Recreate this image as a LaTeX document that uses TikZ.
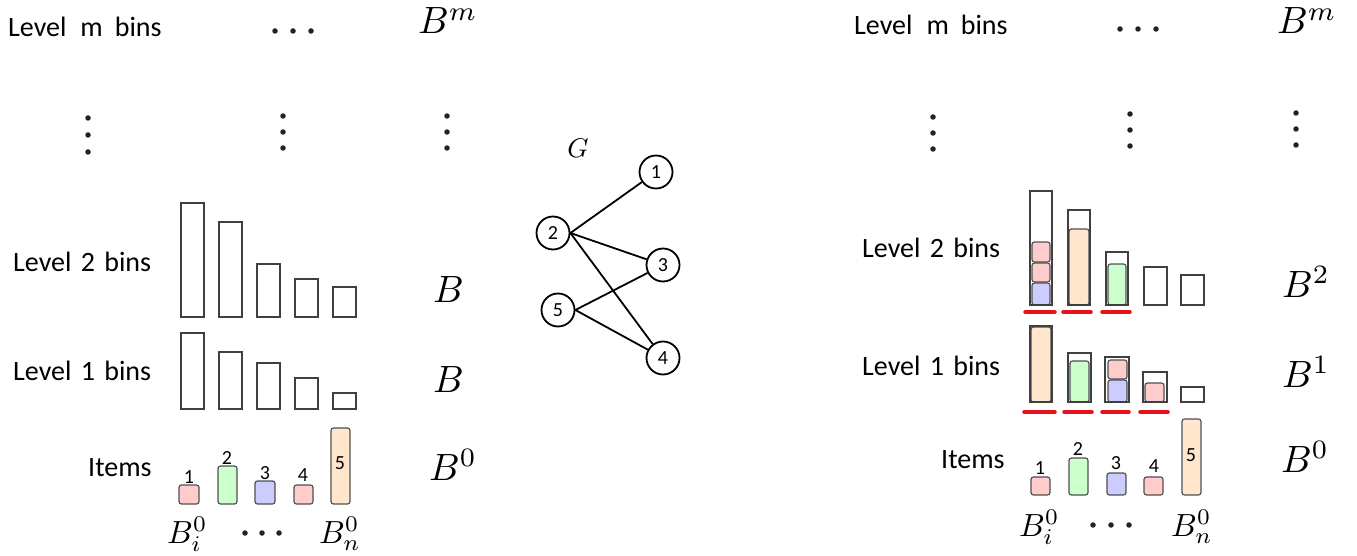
\documentclass[tikz,border=0pt]{standalone}
\usepackage{graphicx}
\usepackage{fontspec}
\newfontfamily\lblfont{Carlito}
\newcommand{\mbLarge}[1]{\scalebox{3.8}{$#1$}}
\newcommand{\mbSmall}[1]{\scalebox{3.2}{$#1$}}
\definecolor{binc}{HTML}{404040}
\definecolor{itemc}{HTML}{505050}
\definecolor{pinkc}{HTML}{FFCCCC}
\definecolor{greenc}{HTML}{CCFFCC}
\definecolor{bluec}{HTML}{CCCCFF}
\definecolor{orangec}{HTML}{FFE6CC}
\definecolor{redc}{HTML}{E8101A}
\definecolor{dotc}{HTML}{222222}
\tikzset{
  lbl/.style={font=\lblfont\fontsize{28}{30}\selectfont, inner sep=0pt, anchor=base west},
  bmath/.style={inner sep=0pt, anchor=base west},
  num/.style={font=\lblfont\fontsize{20}{22}\selectfont, inner sep=0pt},
  bin/.style={draw=binc, line width=1.7pt},
  itembox/.style={draw=itemc, line width=1.2pt, rounded corners=2.5pt},
  redline/.style={draw=redc, line width=3.5pt, line cap=round},
  gnode/.style={circle, draw, line width=1.8pt, minimum size=33pt, inner sep=0pt, font=\lblfont\fontsize{20}{22}\selectfont},
  edge/.style={line width=1.8pt},
  dotmark/.style={circle, fill=dotc, inner sep=0pt, minimum size=5.5pt},
}
\begin{document}
\begin{tikzpicture}[x=1pt,y=-1pt]
\useasboundingbox (0,0) rectangle (1357,556);

% ================= LEFT PANEL =================
\node[lbl] (lLm) at (8,37) {Level\hspace{14pt}m\hspace{12pt}bins};
\node[lbl] (lL2) at (13,271) {Level\hspace{3pt} 2\hspace{3pt} bins};
\node[lbl] (lL1) at (13,380) {Level\hspace{3pt} 1\hspace{3pt} bins};
\node[lbl] (lIt) at (88,476) {Items};

\node[bmath] (lBm) at (418,34) {\mbLarge{B^m}};
\node[bmath] (lB2) at (433,302) {\mbLarge{B}};
\node[bmath] (lB1) at (433,392) {\mbLarge{B}};
\node[bmath] (lB0) at (429,480) {\mbLarge{B^0}};
\node[bmath] (lBi) at (167,543) {\mbSmall{B_i^0}};
\node[bmath] (lBn) at (319,543) {\mbSmall{B_n^0}};

% dots
\foreach \x/\n in {275/a,293/b,311/c} \node[dotmark] (ltd\n) at (\x,31) {};
\foreach \y/\n in {118/a,135/b,152/c} \node[dotmark] (lv1\n) at (88,\y) {};
\foreach \y/\n in {116/a,132/b,148/c} \node[dotmark] (lv2\n) at (283,\y) {};
\foreach \y/\n in {116/a,132/b,148/c} \node[dotmark] (lv3\n) at (447,\y) {};
\foreach \x/\n in {245/a,262/b,279/c} \node[dotmark] (lbd\n) at (\x,533) {};

% level 2 bins
\draw[bin] (181,203) rectangle (204,317);
\draw[bin] (219,222) rectangle (242,317);
\draw[bin] (257,264) rectangle (280,317);
\draw[bin] (295,279) rectangle (318,317);
\draw[bin] (333,287) rectangle (356,317);
% level 1 bins
\draw[bin] (181,333) rectangle (204,409);
\draw[bin] (219,352) rectangle (242,409);
\draw[bin] (257,363) rectangle (280,409);
\draw[bin] (295,378) rectangle (318,409);
\draw[bin] (333,393) rectangle (356,409);

% items
\draw[itembox, fill=pinkc]   (179,485) rectangle (199,504);
\draw[itembox, fill=greenc]  (218,466) rectangle (237,504);
\draw[itembox, fill=bluec]   (255,481) rectangle (275,504);
\draw[itembox, fill=pinkc]   (294,485) rectangle (313,504);
\draw[itembox, fill=orangec] (331,428) rectangle (350,504);
\node[num] (ln1) at (189,477) {1};
\node[num] (ln2) at (227,458) {2};
\node[num] (ln3) at (265,473) {3};
\node[num] (ln4) at (303,475) {4};
\node[num] (ln5) at (340,463) {5};

% ================= GRAPH =================
\node[inner sep=0pt] (G) at (578,148) {\scalebox{2.7}{$G$}};
\node[gnode] (g1) at (656,172) {1};
\node[gnode] (g2) at (553,233) {2};
\node[gnode] (g3) at (663,265) {3};
\node[gnode] (g5) at (558,310) {5};
\node[gnode] (g4) at (663,358) {4};
\draw[edge] (g2.east) -- (g1);
\draw[edge] (g2.east) -- (g3);
\draw[edge] (g2.east) -- (g4);
\draw[edge] (g5.east) -- (g3);
\draw[edge] (g5.east) -- (g4);

% ================= RIGHT PANEL =================
\node[lbl] (rLm) at (854,35) {Level\hspace{14pt}m\hspace{12pt}bins};
\node[lbl] (rL2) at (862,258) {Level\hspace{3pt} 2\hspace{3pt} bins};
\node[lbl] (rL1) at (862,375) {Level\hspace{3pt} 1\hspace{3pt} bins};
\node[lbl] (rIt) at (941,468) {Items};

\node[bmath] (rBm) at (1277,34) {\mbLarge{B^m}};
\node[bmath] (rB2) at (1282,297) {\mbLarge{B^2}};
\node[bmath] (rB1) at (1282,387) {\mbLarge{B^1}};
\node[bmath] (rB0) at (1281,472) {\mbLarge{B^0}};
\node[bmath] (rBi) at (1019,536) {\mbSmall{B_i^0}};
\node[bmath] (rBn) at (1171,536) {\mbSmall{B_n^0}};

\foreach \x/\n in {1120/a,1138/b,1156/c} \node[dotmark] (rtd\n) at (\x,29) {};
\foreach \y/\n in {117/a,133/b,149/c} \node[dotmark] (rv1\n) at (933,\y) {};
\foreach \y/\n in {114/a,130/b,146/c} \node[dotmark] (rv2\n) at (1130,\y) {};
\foreach \y/\n in {113/a,129/b,145/c} \node[dotmark] (rv3\n) at (1296,\y) {};
\foreach \x/\n in {1093/a,1111/b,1129/c} \node[dotmark] (rbd\n) at (\x,525) {};

% level 2 bins with contents
\draw[itembox, fill=bluec]   (1032,283) rectangle (1050,305);
\draw[itembox, fill=pinkc]   (1032,263) rectangle (1050,282);
\draw[itembox, fill=pinkc]   (1032,242) rectangle (1050,262);
\draw[itembox, fill=orangec] (1069,229) rectangle (1089,305);
\draw[itembox, fill=greenc]  (1108,264) rectangle (1126,305);
\draw[bin] (1030,191) rectangle (1052,305);
\draw[bin] (1068,210) rectangle (1090,305);
\draw[bin] (1106,252) rectangle (1128,305);
\draw[bin] (1144,267) rectangle (1167,305);
\draw[bin] (1181,275) rectangle (1204,305);
\draw[redline] (1025,312) -- (1055,312);
\draw[redline] (1063,312) -- (1091,312);
\draw[redline] (1102,312) -- (1130,312);

% level 1 bins with contents
\draw[itembox, fill=orangec] (1031,327) rectangle (1051,402);
\draw[itembox, fill=greenc]  (1070,361) rectangle (1089,402);
\draw[itembox, fill=pinkc]   (1108,360) rectangle (1127,379);
\draw[itembox, fill=bluec]   (1108,380) rectangle (1127,402);
\draw[itembox, fill=pinkc]   (1145,383) rectangle (1164,402);
\draw[bin] (1030,326) rectangle (1052,402);
\draw[bin] (1068,353) rectangle (1091,402);
\draw[bin] (1105,357) rectangle (1129,402);
\draw[bin] (1143,372) rectangle (1167,402);
\draw[bin] (1181,387) rectangle (1204,402);
\draw[redline] (1024,412) -- (1055,412);
\draw[redline] (1064,412) -- (1092,412);
\draw[redline] (1102,412) -- (1129,412);
\draw[redline] (1140,412) -- (1168,412);

% items
\draw[itembox, fill=pinkc]   (1031,477) rectangle (1050,495);
\draw[itembox, fill=greenc]  (1069,458) rectangle (1088,495);
\draw[itembox, fill=bluec]   (1107,473) rectangle (1126,495);
\draw[itembox, fill=pinkc]   (1144,477) rectangle (1163,495);
\draw[itembox, fill=orangec] (1182,419) rectangle (1201,495);
\node[num] (rn1) at (1040,468) {1};
\node[num] (rn2) at (1078,449) {2};
\node[num] (rn3) at (1116,463) {3};
\node[num] (rn4) at (1154,466) {4};
\node[num] (rn5) at (1191,455) {5};
\end{tikzpicture}
\end{document}
